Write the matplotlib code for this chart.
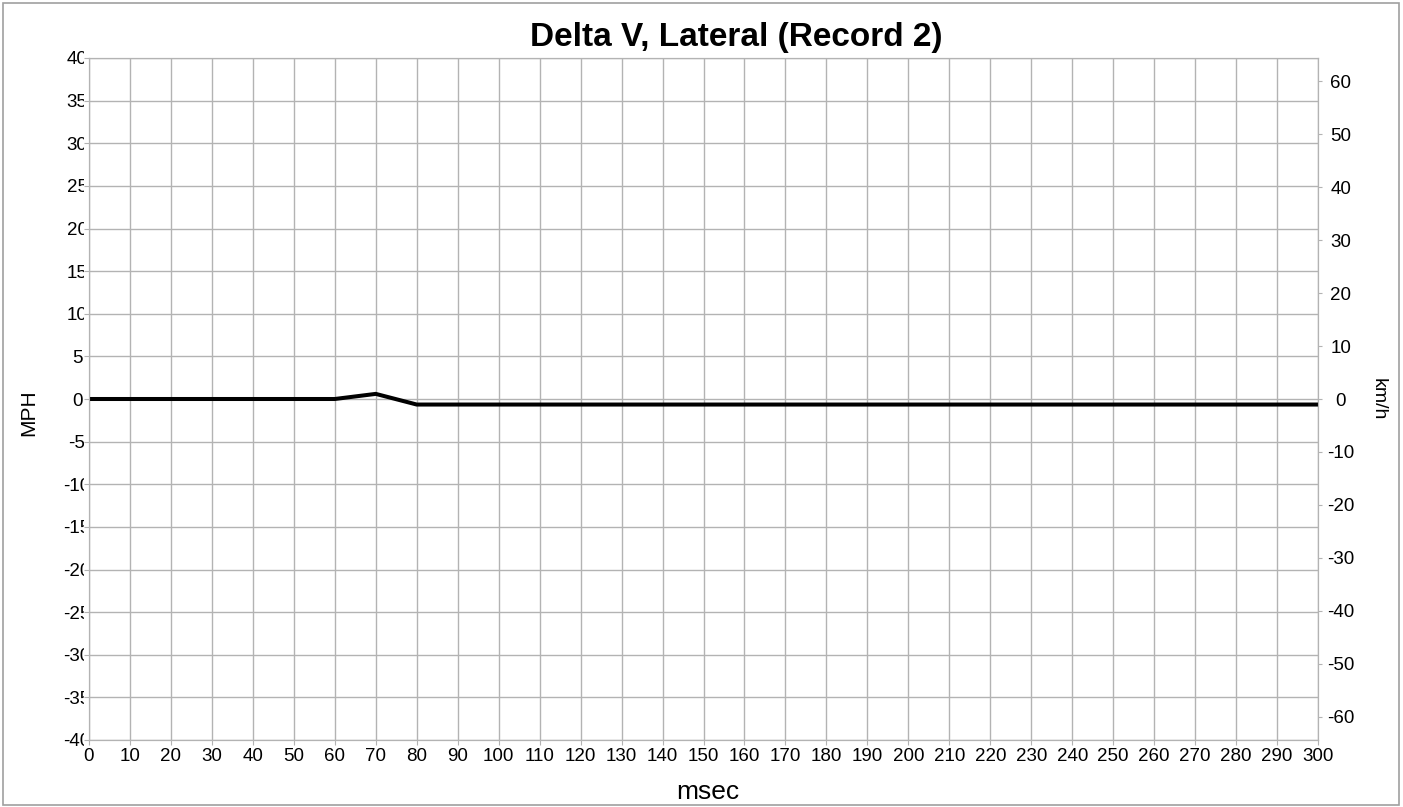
import numpy as np
import matplotlib.pyplot as plt
from matplotlib.patches import Rectangle
from matplotlib.transforms import Bbox

plt.rcParams['font.family'] = ['Liberation Sans', 'DejaVu Sans']
plt.rcParams['axes.unicode_minus'] = False

# delta V lateral, one sample every 10 ms
msec = [0, 10, 20, 30, 40, 50, 60, 70, 80, 90, 100, 110, 120, 130, 140, 150,
        160, 170, 180, 190, 200, 210, 220, 230, 240, 250, 260, 270, 280, 290, 300]
mph = [0, 0, 0, 0, 0, 0, 0, 0.6, -0.65, -0.65, -0.65, -0.65, -0.65, -0.65, -0.65, -0.65,
       -0.65, -0.65, -0.65, -0.65, -0.65, -0.65, -0.65, -0.65, -0.65, -0.65, -0.65, -0.65,
       -0.65, -0.65, -0.65]

mph_ticks = list(range(-40, 41, 5))
kmh_ticks = list(range(-60, 61, 10))
KMH_PER_MPH = 1.609344

W, H = 1403, 807
fig = plt.figure(figsize=(W / 100, H / 100), dpi=100)
ax = fig.add_axes([89 / W, 1 - 740 / H, (1318 - 89) / W, (740 - 58) / H])

grid_c = '#b3b3b3'
ax.plot(msec, mph, color='black', lw=2.9, solid_joinstyle='miter', zorder=3)
ax.set_xlim(0, 300)
ax.set_ylim(-40, 40)
ax.set_xticks(range(0, 301, 10))
ax.set_yticks(mph_ticks)
ax.grid(True, color=grid_c, lw=1)
for s in ax.spines.values():
    s.set_color(grid_c)
ax.tick_params(colors=grid_c, labelcolor='black', labelsize=13.5, length=3.5)
ax.tick_params(axis='x', pad=2.5)
ax.tick_params(axis='y', pad=5.1)

ax2 = ax.twinx()
ax2.set_ylim(-40 * KMH_PER_MPH, 40 * KMH_PER_MPH)
ax2.set_yticks(kmh_ticks)
ax2.tick_params(colors=grid_c, labelcolor='black', labelsize=13.5, length=3)
ax2.tick_params(axis='y', pad=13.5)
for s in ax2.spines.values():
    s.set_color(grid_c)

fig.text(736 / W, 1 - 46 / H, 'Delta V, Lateral (Record 2)', fontsize=24,
         fontweight='bold', ha='center', va='baseline')
fig.text(708 / W, 1 - 799 / H, 'msec', fontsize=19, ha='center', va='baseline')
fig.text(29 / W, 1 - 413 / H, 'MPH', fontsize=15, rotation=90, ha='center', va='center')
fig.text(1378 / W, 1 - 399 / H, 'km/h', fontsize=14, rotation=-90, ha='center', va='center')

fig.patches.append(Rectangle((3 / W, 2 / H), (1399 - 3) / W, (805 - 3) / H,
                             transform=fig.transFigure, fill=False,
                             edgecolor='#a0a0a0', lw=1.2))

# labels are centred, and the left ones get cut off at the plot edge
fig.canvas.draw()
for lab in ax.get_yticklabels():
    lab.set_horizontalalignment('center')
    lab.set_clip_box(Bbox([[0, 0], [84, H]]))
    lab.set_clip_on(True)
for lab in ax2.get_yticklabels():
    lab.set_horizontalalignment('center')

fig.savefig('out.png', dpi=100)
